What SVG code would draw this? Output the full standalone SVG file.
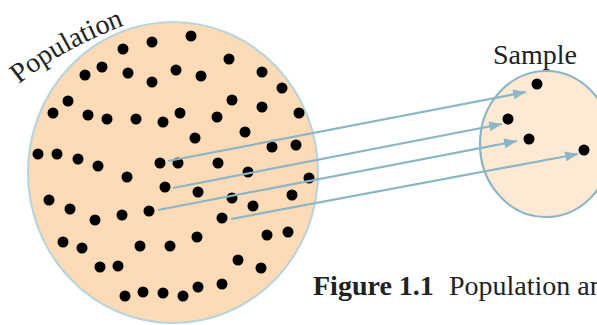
<svg xmlns="http://www.w3.org/2000/svg" width="597" height="325" viewBox="0 0 597 325">
<style>
.dot{fill:#000}
.lbl{font-family:"Liberation Serif","DejaVu Serif",serif;font-size:28px;fill:#222}
.arrow{stroke:#8ab6c6;stroke-width:2.2;fill:none;marker-end:url(#ah)}
</style>
<defs>
<marker id="ah" markerUnits="userSpaceOnUse" markerWidth="14" markerHeight="10" refX="13" refY="5" orient="auto">
<path d="M0,0 L13,5 L0,10 z" fill="#8ab6c6"/>
</marker>
<path id="popArc" d="M19,84 Q66,46 136,21"/>
</defs>
<rect width="597" height="325" fill="#fff"/>
<g id="population">
<ellipse cx="173" cy="172.5" rx="145" ry="150.5" fill="#fddbb6" stroke="#bad4dc" stroke-width="2.2"/>
<text class="lbl"><textPath href="#popArc">Population</textPath></text>
<g class="dot">
<circle cx="191" cy="36" r="5.5"/><circle cx="152" cy="42" r="5.5"/><circle cx="123" cy="49" r="5.5"/><circle cx="229" cy="59" r="5.5"/>
<circle cx="102" cy="67" r="5.5"/><circle cx="85" cy="75" r="5.5"/><circle cx="128" cy="73" r="5.5"/><circle cx="152" cy="82" r="5.5"/>
<circle cx="176" cy="70" r="5.5"/><circle cx="201" cy="76" r="5.5"/><circle cx="262" cy="72" r="5.5"/><circle cx="282" cy="88" r="5.5"/>
<circle cx="68" cy="101" r="5.5"/><circle cx="53" cy="113" r="5.5"/><circle cx="88" cy="115" r="5.5"/><circle cx="107" cy="119" r="5.5"/>
<circle cx="136" cy="119" r="5.5"/><circle cx="163" cy="122" r="5.5"/><circle cx="180" cy="113" r="5.5"/><circle cx="217" cy="117" r="5.5"/>
<circle cx="232" cy="100" r="5.5"/><circle cx="262" cy="107" r="5.5"/><circle cx="299" cy="113" r="5.5"/><circle cx="195" cy="138" r="5.5"/>
<circle cx="245" cy="132" r="5.5"/><circle cx="272" cy="147" r="5.5"/><circle cx="296" cy="145" r="5.5"/><circle cx="38" cy="154" r="5.5"/>
<circle cx="57" cy="154" r="5.5"/><circle cx="78" cy="159" r="5.5"/><circle cx="98" cy="166" r="5.5"/><circle cx="160" cy="163" r="5.5"/>
<circle cx="178" cy="163" r="5.5"/><circle cx="218" cy="163" r="5.5"/><circle cx="248" cy="172" r="5.5"/><circle cx="127" cy="177" r="5.5"/>
<circle cx="165" cy="187" r="5.5"/><circle cx="198" cy="192" r="5.5"/><circle cx="232" cy="198" r="5.5"/><circle cx="253" cy="206" r="5.5"/>
<circle cx="292" cy="195" r="5.5"/><circle cx="309" cy="178" r="5.5"/><circle cx="49" cy="200" r="5.5"/><circle cx="70" cy="209" r="5.5"/>
<circle cx="95" cy="220" r="5.5"/><circle cx="122" cy="215" r="5.5"/><circle cx="149" cy="211" r="5.5"/><circle cx="222" cy="218" r="5.5"/>
<circle cx="63" cy="242" r="5.5"/><circle cx="82" cy="248" r="5.5"/><circle cx="140" cy="246" r="5.5"/><circle cx="170" cy="246" r="5.5"/>
<circle cx="197" cy="237" r="5.5"/><circle cx="267" cy="235" r="5.5"/><circle cx="288" cy="232" r="5.5"/><circle cx="100" cy="267" r="5.5"/>
<circle cx="118" cy="266" r="5.5"/><circle cx="238" cy="260" r="5.5"/><circle cx="261" cy="268" r="5.5"/><circle cx="125" cy="296" r="5.5"/>
<circle cx="143" cy="292" r="5.5"/><circle cx="163" cy="293" r="5.5"/><circle cx="183" cy="296" r="5.5"/><circle cx="198" cy="287" r="5.5"/>
<circle cx="222" cy="284" r="5.5"/>
</g>
</g>
<g id="sample">
<ellipse cx="546" cy="144" rx="66" ry="73" fill="#fde9d4" stroke="#8cb5c3" stroke-width="2.2"/>
<text class="lbl" x="535" y="64" text-anchor="middle">Sample</text>
<g class="dot">
<circle cx="537" cy="84" r="5.5"/><circle cx="508" cy="119" r="5.5"/><circle cx="529" cy="139" r="5.5"/><circle cx="584" cy="150" r="5.5"/>
</g>
</g>
<g id="connectors">
<line class="arrow" x1="168" y1="161" x2="526" y2="92"/>
<line class="arrow" x1="173" y1="188" x2="502" y2="124"/>
<line class="arrow" x1="158" y1="210" x2="517" y2="141"/>
<line class="arrow" x1="231" y1="219" x2="578" y2="154"/>
</g>
<g id="caption">
<text class="lbl" x="313" y="295" font-weight="bold">Figure 1.1</text>
<text class="lbl" x="449" y="295">Population an</text>
</g>
</svg>
